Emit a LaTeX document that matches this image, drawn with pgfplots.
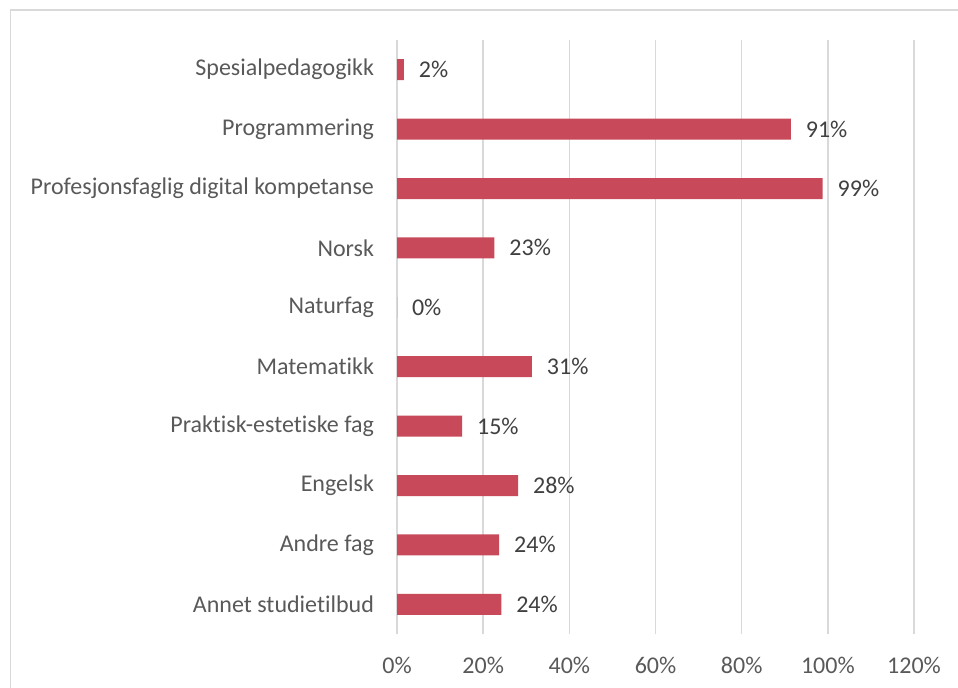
\documentclass[border=0pt]{standalone}
\usepackage{pgfplots}
\pgfplotsset{compat=1.18}
\usepackage{fontspec}
\setmainfont{Carlito}[Ligatures=NoCommon]
\definecolor{barcol}{RGB}{200,73,89}
\definecolor{gridcol}{RGB}{217,217,217}
\definecolor{tickcol}{RGB}{89,89,89}
\definecolor{labcol}{RGB}{64,64,64}
\begin{document}
\begin{tikzpicture}
\useasboundingbox (0,0) rectangle (479pt,343.5pt);
\draw[gridcol, line width=0.8pt] (5.3pt,-10pt) -- (5.3pt,338.5pt) -- (500pt,338.5pt);
\begin{axis}[
  at={(198.5pt,26.5pt)}, anchor=south west,
  scale only axis,
  width=258.5pt, height=297pt,
  xmin=0, xmax=120,
  ymin=-0.5, ymax=9.5,
  xtick={0,20,...,120},
  xticklabel={\pgfmathprintnumber{\tick}\%},
  ytick={0,...,9},
  yticklabels={Annet studietilbud, Andre fag, Engelsk, Praktisk-estetiske fag, Matematikk, Naturfag, Norsk, Profesjonsfaglig digital kompetanse, Programmering, Spesialpedagogikk},
  /pgf/number format/assume math mode=true,
  axis line style={draw=none},
  major tick length=0pt,
  xmajorgrids,
  grid style={gridcol, line width=0.8pt},
  ticklabel style={font=\fontsize{12}{14}\selectfont, text=tickcol},
  yticklabel style={xshift=-8pt},
  xticklabel style={yshift=-8pt},
  clip=false,
]
\addplot[xbar, fill=barcol, draw=none, bar width=10.5pt,
  point meta=x,
  nodes near coords={\pgfmathprintnumber[fixed,precision=0]{\pgfplotspointmeta}\%},
  nodes near coords style={anchor=west, xshift=4pt, font=\fontsize{12}{14}\selectfont, text=labcol},
] table[x=v, y=i] {
i v
0 24.2
1 23.7
2 28.1
3 15.1
4 31.3
5 0
6 22.6
7 98.8
8 91.4
9 1.6
};
\end{axis}
\end{tikzpicture}
\end{document}
